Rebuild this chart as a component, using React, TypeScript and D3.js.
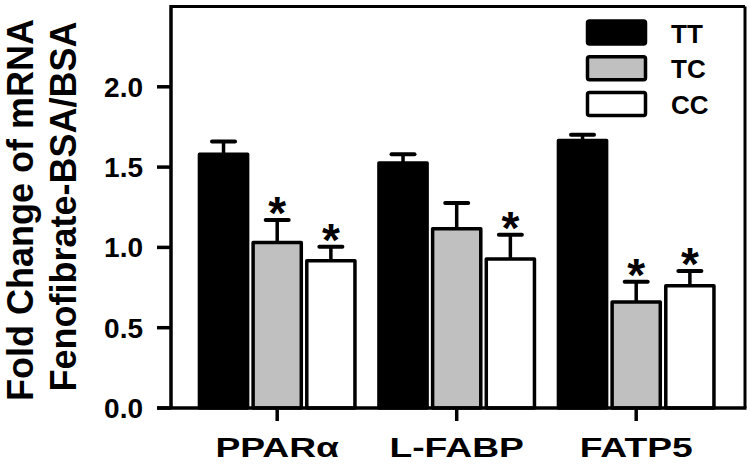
import React from "react";
import * as d3 from "d3";

const categories = ["PPARα", "L-FABP", "FATP5"];
const seriesNames = ["TT", "TC", "CC"];
const seriesFill = ["#000000", "#c0c0c0", "#ffffff"];
const ttValues = [1.58, 1.525, 1.666];
const ttErrors = [0.08, 0.055, 0.035];
const tcValues = [1.03, 1.116, 0.66];
const tcErrors = [0.14, 0.16, 0.126];
const ccValues = [0.917, 0.928, 0.761];
const ccErrors = [0.087, 0.15, 0.092];
const ttSig = [false, false, false];
const tcSig = [true, false, true];
const ccSig = [true, true, true];
const yTicks = [0, 0.5, 1.0, 1.5, 2.0];
const yTitleLines = ["Fold Change of mRNA", "Fenofibrate-BSA/BSA"];

const W = 750;
const H = 470;
const FONT = "'Liberation Sans', Arial, Helvetica, sans-serif";

export default function App() {
  const values = [ttValues, tcValues, ccValues];
  const errors = [ttErrors, tcErrors, ccErrors];
  const sig = [ttSig, tcSig, ccSig];

  const axisX = 171;
  const frameRight = 745;
  const y = d3.scaleLinear().domain([0, 2.5]).range([408, 6.5]);
  const x0 = d3
    .scaleBand<string>()
    .domain(categories)
    .range([187.45, 725.95])
    .paddingInner(0.103)
    .paddingOuter(0.0515);
  const x1 = d3
    .scaleBand<string>()
    .domain(seriesNames)
    .range([0, x0.bandwidth()])
    .padding(0);

  const sw = 3.5;
  const y0 = y(0);

  return (
    <svg
      width={W}
      height={H}
      style={{ position: "absolute", left: 0, top: 0, background: "#fff" }}
      fontFamily={FONT}
    >
      <rect x={0} y={0} width={W} height={H} fill="#fff" />
      {/* bars */}
      {categories.map((c, ci) =>
        seriesNames.map((s, si) => {
          const bx = (x0(c) as number) + (x1(s) as number);
          const bw = x1.bandwidth();
          const v = values[si][ci];
          const e = errors[si][ci];
          const cx = bx + bw / 2;
          const topY = y(v);
          const capY = y(v + e);
          return (
            <g key={c + s}>
              <line x1={cx} x2={cx} y1={topY} y2={capY} stroke="#000" strokeWidth={sw} />
              <line
                x1={cx - 11.5}
                x2={cx + 11.5}
                y1={capY}
                y2={capY}
                stroke="#000"
                strokeWidth={4}
                strokeLinecap="round"
              />
              <rect
                x={bx + 1 + sw / 2}
                y={topY}
                width={bw - 2 - sw}
                height={y0 - topY}
                fill={seriesFill[si]}
                stroke="#000"
                strokeWidth={sw}
                strokeLinejoin="round"
              />
              {sig[si][ci] && (
                <text
                  x={cx}
                  y={capY + 9}
                  textAnchor="middle"
                  fontSize={46}
                  fontWeight="bold"
                  fill="#000"
                >
                  *
                </text>
              )}
            </g>
          );
        })
      )}
      {/* frame */}
      <line x1={axisX} x2={frameRight} y1={y(2.5)} y2={y(2.5)} stroke="#000" strokeWidth={3} />
      <line x1={frameRight} x2={frameRight} y1={y(2.5)} y2={y0} stroke="#000" strokeWidth={3} />
      {/* y axis */}
      <line x1={axisX} x2={axisX} y1={y(2.5) - 1.5} y2={y0} stroke="#000" strokeWidth={3.5} />
      {yTicks.map((t) => (
        <g key={t}>
          <line x1={157} x2={axisX} y1={y(t)} y2={y(t)} stroke="#000" strokeWidth={3.5} />
          <text
            x={143}
            y={y(t)}
            dy="0.36em"
            textAnchor="end"
            fontSize={28}
            fontWeight="bold"
            fill="#000"
          >
            {d3.format(".1f")(t)}
          </text>
        </g>
      ))}
      {/* x axis */}
      <line x1={157} x2={frameRight + 1.5} y1={y0} y2={y0} stroke="#000" strokeWidth={3.5} />
      {categories.map((c) => {
        const cx = (x0(c) as number) + x0.bandwidth() / 2;
        return (
          <g key={c}>
            <line x1={cx} x2={cx} y1={y0} y2={y0 + 13} stroke="#000" strokeWidth={3.5} />
            <text
              transform={`translate(${cx},457) scale(1.33,1)`}
              textAnchor="middle"
              fontSize={28}
              fontWeight="bold"
              fill="#000"
            >
              {c}
            </text>
          </g>
        );
      })}
      {/* y title */}
      {yTitleLines.map((l, i) => (
        <text
          key={l}
          transform={`translate(${i === 0 ? 33 : 76},${i === 0 ? 210 : 206.5}) rotate(-90)`}
          textAnchor="middle"
          fontSize={36}
          fontWeight="bold"
          fill="#000"
        >
          {l}
        </text>
      ))}
      {/* legend */}
      {seriesNames.map((s, i) => {
        const ly = 21 + i * 35.7;
        return (
          <g key={s}>
            <rect
              x={587.5}
              y={ly}
              width={58}
              height={23}
              rx={2}
              fill={seriesFill[i]}
              stroke="#000"
              strokeWidth={3.5}
            />
            <text x={671} y={ly + 21.5} fontSize={26} fontWeight="bold" fill="#000">
              {s}
            </text>
          </g>
        );
      })}
    </svg>
  );
}
